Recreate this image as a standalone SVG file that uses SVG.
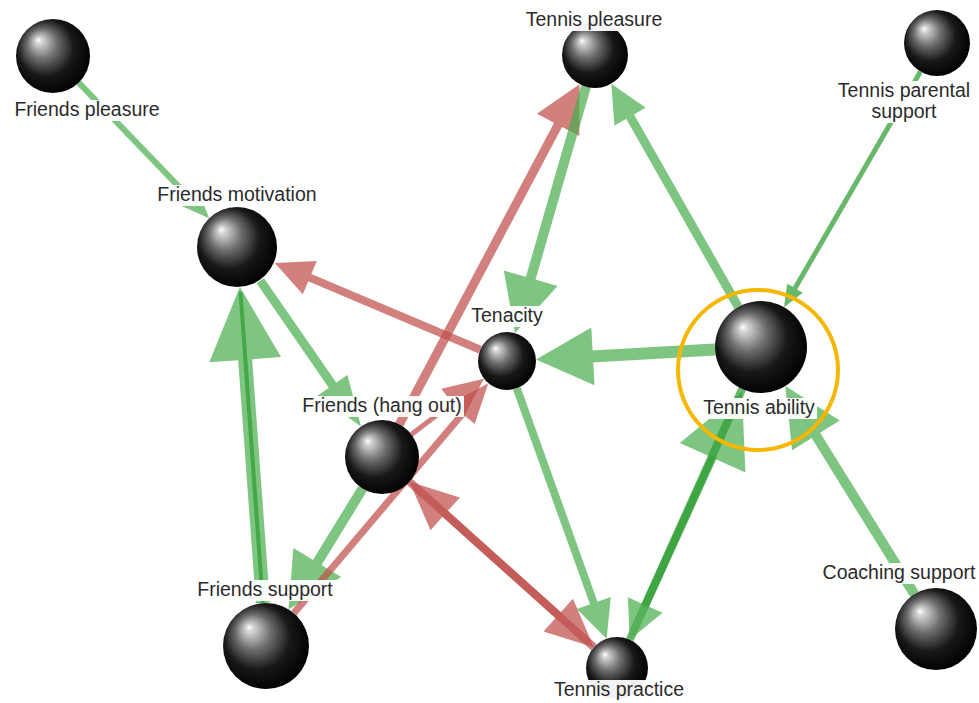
<svg xmlns="http://www.w3.org/2000/svg" width="979" height="703" viewBox="0 0 979 703">
  <defs>
    <radialGradient id="ball" cx="0.45" cy="0.45" r="0.58" fx="0.3" fy="0.28">
      <stop offset="0" stop-color="#ffffff"/>
      <stop offset="0.08" stop-color="#d4d4d4"/>
      <stop offset="0.35" stop-color="#6e6e6e"/>
      <stop offset="0.66" stop-color="#181818"/>
      <stop offset="1" stop-color="#000000"/>
    </radialGradient>
  </defs>
  <style>
    .pos line { stroke: #4caf50; stroke-linecap: butt; }
    .pos polygon { fill: #4caf50; }
    .dk line { stroke: #2f9e34; }
    .dk polygon { fill: #2f9e34; }
    .neg line { stroke: #c0504d; stroke-linecap: butt; }
    .neg polygon { fill: #c0504d; }
    .edge { opacity: 0.72; }
    .ball { fill: url(#ball); }
    .bg { fill: #ffffff; fill-opacity: 0.94; }
    .lbl { font-family: "Liberation Sans", Arial, sans-serif; font-size: 19.5px; fill: #2b2b2b; text-anchor: middle; }
  </style>
  <rect width="979" height="703" fill="#ffffff"/>

  <g id="connectors">
    <!-- Friends pleasure -> Friends motivation -->
    <g class="edge pos"><line x1="78.7" y1="82.6" x2="188.4" y2="196.6" stroke-width="6"/><polygon points="209.2,218.2 177.6,204.2 196.4,186.2"/></g>
    <!-- Friends motivation -> Friends (hang out) -->
    <g class="edge pos"><line x1="260.3" y1="280.7" x2="333.7" y2="386.9" stroke-width="9"/><polygon points="361,426.5 317.8,395.5 347.4,375.1"/></g>
    <!-- Friends support -> Friends motivation -->
    <g class="edge pos"><line x1="262.9" y1="603.1" x2="245.0" y2="357.7" stroke-width="14"/><polygon points="239.9,286.9 281.1,357.1 209.3,362.3"/></g>
    <g class="edge dk"><line x1="262.9" y1="603.1" x2="240.5" y2="292" stroke-width="4"/></g>
    <!-- Friends (hang out) -> Friends support -->
    <g class="edge pos"><line x1="362.6" y1="488.5" x2="316.3" y2="564.2" stroke-width="10"/><polygon points="288.5,609.4 293.4,547.9 341.2,577.1"/></g>
    <!-- Friends support -> Tenacity -->
    <g class="edge neg"><line x1="293.8" y1="613.2" x2="463.8" y2="412.3" stroke-width="7"/><polygon points="488.3,383.2 474.7,424.1 450.3,403.5"/></g>
    <!-- Friends (hang out) -> Tenacity -->
    <g class="edge neg"><line x1="411.3" y1="434.5" x2="453.9" y2="401.9" stroke-width="5"/><polygon points="484,378.7 463.3,417.4 441.3,388.8"/></g>
    <!-- Tenacity -> Friends motivation -->
    <g class="edge neg"><line x1="480.3" y1="349.7" x2="308.0" y2="276.9" stroke-width="8"/><polygon points="274.8,262.9 316.8,261.1 302.8,294.3"/></g>
    <!-- Friends (hang out) -> Tennis pleasure -->
    <g class="edge neg"><line x1="399.3" y1="424.3" x2="559.0" y2="123.1" stroke-width="9"/><polygon points="579.6,84.2 579.3,136.1 536.9,113.7"/></g>
    <!-- Tennis pleasure -> Tenacity -->
    <g class="edge pos"><line x1="585.9" y1="86.7" x2="530.2" y2="280.1" stroke-width="10"/><polygon points="515,333 503.8,270.5 557.6,285.9"/></g>
    <!-- Tennis ability -> Tennis pleasure -->
    <g class="edge pos"><line x1="738.3" y1="307" x2="629.5" y2="115.6" stroke-width="9"/><polygon points="611.3,83.7 645.7,107.8 614.5,125.6"/></g>
    <!-- Tennis parental support -> Tennis ability -->
    <g class="edge dk"><line x1="920.5" y1="71.6" x2="794.4" y2="289.3" stroke-width="5"/><polygon points="784,307.2 787.2,283.7 802.8,292.7"/></g>
    <!-- Tennis ability -> Tenacity -->
    <g class="edge pos"><line x1="715" y1="349.5" x2="591.9" y2="356.4" stroke-width="12"/><polygon points="536,359.4 591.3,327.4 594.5,385.2"/></g>
    <!-- Tenacity -> Tennis practice -->
    <g class="edge pos"><line x1="516.8" y1="388.3" x2="594.1" y2="604.0" stroke-width="8"/><polygon points="606.6,638.8 576.8,609.1 610.8,596.9"/></g>
    <!-- Friends (hang out) <-> Tennis practice -->
    <g class="edge neg"><line x1="409.5" y1="481.7" x2="559.7" y2="616.5" stroke-width="8"/><polygon points="593.9,647.3 543.5,631.6 572.9,598.8"/></g>
    <g class="edge neg"><line x1="593.9" y1="647.3" x2="443.7" y2="512.5" stroke-width="8"/><polygon points="409.5,481.7 459.9,497.4 430.5,530.2"/></g>
    <!-- Tennis practice <-> Tennis ability -->
    <g class="edge dk"><line x1="629.7" y1="639.7" x2="713.4" y2="455.9" stroke-width="8"/></g>
    <g class="edge pos"><polygon points="742,392 745.4,472.4 679.8,443.0"/></g>
    <g class="edge dk"><line x1="742.2" y1="389" x2="644.4" y2="606.8" stroke-width="8"/></g>
    <g class="edge pos"><polygon points="629.7,639.7 627.9,597.2 662.5,612.8"/></g>
    <!-- Coaching support -> Tennis ability -->
    <g class="edge pos"><line x1="914.4" y1="594.2" x2="814.8" y2="433.7" stroke-width="10"/><polygon points="785.3,386.1 839.7,420.6 792.1,450.2"/></g>
  </g>

  <g id="friends-pleasure">
    <circle class="ball" cx="53" cy="56" r="37"/>
    <rect class="bg" x="12" y="100" width="150" height="21"/>
    <text class="lbl" x="87" y="116">Friends pleasure</text>
  </g>
  <g id="friends-motivation">
    <circle class="ball" cx="237" cy="247" r="40"/>
    <rect class="bg" x="155" y="185" width="164" height="21"/>
    <text class="lbl" x="237" y="201">Friends motivation</text>
  </g>
  <g id="tennis-pleasure">
    <circle class="ball" cx="595" cy="55" r="33"/>
    <rect class="bg" x="523" y="10" width="142" height="21"/>
    <text class="lbl" x="594" y="26">Tennis pleasure</text>
  </g>
  <g id="tennis-parental-support">
    <circle class="ball" cx="937" cy="43" r="33"/>
    <rect class="bg" x="835" y="81" width="138" height="21"/>
    <rect class="bg" x="869" y="102" width="70" height="21"/>
    <text class="lbl" x="904" y="97">Tennis parental</text>
    <text class="lbl" x="904" y="118">support</text>
  </g>
  <g id="tenacity">
    <circle class="ball" cx="507" cy="361" r="29"/>
    <rect class="bg" x="468" y="306" width="78" height="21"/>
    <text class="lbl" x="507" y="322">Tenacity</text>
  </g>
  <g id="friends-hang-out">
    <circle class="ball" cx="382" cy="457" r="37"/>
    <rect class="bg" x="300" y="396" width="164" height="21"/>
    <text class="lbl" x="382" y="412">Friends (hang out)</text>
  </g>
  <g id="tennis-ability">
    <circle class="ball" cx="761" cy="347" r="46"/>
    <rect class="bg" x="701" y="398" width="116" height="21"/>
    <text class="lbl" x="759" y="414">Tennis ability</text>
    <circle cx="758" cy="370" r="80" fill="none" stroke="#f5b700" stroke-width="4"/>
  </g>
  <g id="coaching-support">
    <circle class="ball" cx="936" cy="629" r="41"/>
    <rect class="bg" x="820" y="563" width="159" height="21"/>
    <text class="lbl" x="899" y="579">Coaching support</text>
  </g>
  <g id="friends-support">
    <circle class="ball" cx="266" cy="646" r="43"/>
    <rect class="bg" x="195" y="580" width="141" height="21"/>
    <text class="lbl" x="265" y="596">Friends support</text>
  </g>
  <g id="tennis-practice">
    <circle class="ball" cx="617" cy="668" r="31"/>
    <rect class="bg" x="550" y="680" width="138" height="23"/>
    <text class="lbl" x="619" y="696">Tennis practice</text>
  </g>
</svg>
